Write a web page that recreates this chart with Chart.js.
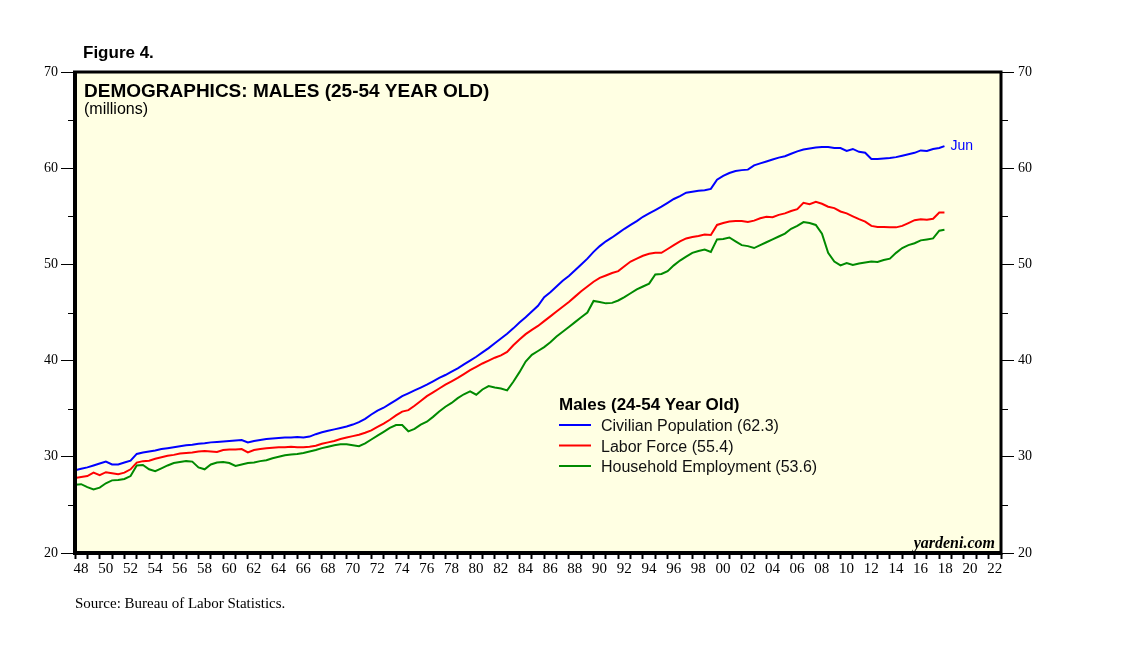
<!DOCTYPE html>
<html>
<head>
<meta charset="utf-8">
<script src="https://cdn.jsdelivr.net/npm/chart.js@4"></script>
<style>
  html, body { margin: 0; padding: 0; background: #fff; }
  canvas { display: block; }
</style>
</head>
<body>
<canvas id="chart" width="1138" height="649"></canvas>
<script>
// half-year sample points, 1948 to mid-2018 (last reading is June 2018)
const dates = [];
for (let y = 1948; y <= 2018; y += 0.5) dates.push(y);
dates.push(2018.42);

const civilian = [
    28.6, 28.75, 28.9, 29.1, 29.3, 29.5, 29.2, 29.2, 29.4, 29.6,
    30.3, 30.45, 30.55, 30.65, 30.8, 30.9, 31.0, 31.1, 31.2, 31.25,
    31.35, 31.4, 31.5, 31.55, 31.6, 31.65, 31.7, 31.75, 31.5, 31.65,
    31.75, 31.85, 31.9, 31.95, 32.0, 32.0, 32.05, 32.0, 32.1, 32.35,
    32.55, 32.7, 32.85, 33.0, 33.15, 33.35, 33.6, 33.95, 34.4, 34.8,
    35.1, 35.5, 35.9, 36.3, 36.6, 36.9, 37.2, 37.5, 37.85, 38.2,
    38.5, 38.85, 39.2, 39.6, 40.0, 40.4, 40.85, 41.3, 41.8, 42.3,
    42.8, 43.35, 43.95, 44.5, 45.1, 45.7, 46.6, 47.1, 47.7, 48.3,
    48.8, 49.4, 50.0, 50.6, 51.3, 51.9, 52.4, 52.8, 53.25, 53.7,
    54.1, 54.5, 54.95, 55.3, 55.65, 56.0, 56.4, 56.8, 57.1, 57.45,
    57.55, 57.65, 57.7, 57.85, 58.8, 59.2, 59.5, 59.7, 59.8, 59.85,
    60.3, 60.5, 60.7, 60.9, 61.1, 61.25, 61.5, 61.75, 61.95, 62.05,
    62.15, 62.2, 62.2, 62.1, 62.1, 61.8, 62.0, 61.7, 61.6, 60.95,
    60.95, 61.0, 61.05, 61.15, 61.3, 61.45, 61.6, 61.85, 61.8, 62.0,
    62.1, 62.3
];

const laborForce = [
    27.8, 27.9, 28.0, 28.35, 28.1, 28.4, 28.3, 28.2, 28.35, 28.7,
    29.4, 29.55, 29.6, 29.8, 29.95, 30.1, 30.2, 30.35, 30.4, 30.45,
    30.55, 30.6, 30.55, 30.5, 30.7, 30.75, 30.75, 30.8, 30.45, 30.7,
    30.8, 30.9, 30.95, 31.0, 31.0, 31.05, 31.0, 31.0, 31.05, 31.15,
    31.35, 31.5, 31.65, 31.85, 32.0, 32.15, 32.3, 32.5, 32.75, 33.1,
    33.45, 33.85, 34.3, 34.7, 34.85, 35.3, 35.8, 36.3, 36.7, 37.1,
    37.5, 37.85, 38.2, 38.6, 39.0, 39.35, 39.7, 40.0, 40.3, 40.55,
    40.9, 41.6, 42.2, 42.75, 43.2, 43.6, 44.1, 44.6, 45.1, 45.6,
    46.1, 46.65, 47.2, 47.7, 48.2, 48.6, 48.85, 49.1, 49.3, 49.8,
    50.3, 50.6, 50.9, 51.1, 51.2, 51.2, 51.6, 52.0, 52.4, 52.7,
    52.85, 52.95, 53.1, 53.05, 54.1, 54.3, 54.45, 54.5, 54.5, 54.4,
    54.55, 54.8, 54.95, 54.9, 55.15, 55.3, 55.55, 55.75, 56.4, 56.25,
    56.5, 56.3, 56.0, 55.85, 55.5, 55.3, 55.0, 54.7, 54.45, 54.0,
    53.9, 53.9, 53.85, 53.85, 54.0, 54.3, 54.6, 54.7, 54.65, 54.75,
    55.4, 55.4
];

const employment = [
    27.1, 27.15, 26.85, 26.6, 26.8, 27.25, 27.55, 27.6, 27.7, 28.0,
    29.1, 29.15, 28.7, 28.5, 28.8, 29.1, 29.35, 29.45, 29.55, 29.5,
    28.9, 28.7, 29.2, 29.4, 29.45, 29.35, 29.05, 29.2, 29.35, 29.4,
    29.55, 29.65, 29.85, 30.0, 30.15, 30.25, 30.3, 30.4, 30.55, 30.7,
    30.9, 31.05, 31.2, 31.3, 31.3, 31.2, 31.1, 31.4, 31.8, 32.2,
    32.6, 33.0, 33.3, 33.3, 32.65, 32.9, 33.35, 33.65, 34.15, 34.7,
    35.2, 35.6, 36.1, 36.5, 36.8, 36.45, 37.0, 37.35, 37.2, 37.1,
    36.9, 37.8, 38.8, 39.9, 40.6, 41.0, 41.4, 41.9, 42.5, 43.0,
    43.5, 44.0, 44.5, 45.0, 46.2, 46.1, 45.95, 46.0, 46.25, 46.6,
    47.0, 47.4, 47.7, 48.0, 48.95, 49.0, 49.3, 49.9, 50.4, 50.8,
    51.2, 51.4, 51.55, 51.3, 52.6, 52.65, 52.8, 52.4, 52.0, 51.9,
    51.7, 52.0, 52.3, 52.6, 52.9, 53.2, 53.7, 54.0, 54.4, 54.3,
    54.1, 53.2, 51.2, 50.3, 49.9, 50.15, 49.95, 50.1, 50.2, 50.3,
    50.25, 50.45, 50.6, 51.2, 51.7, 52.0, 52.2, 52.5, 52.6, 52.7,
    53.5, 53.6
];

const seriesNames = ['Civilian Population', 'Labor Force', 'Household Employment'];
const latest = ['62.3', '55.4', '53.6'];
const yTicks = [20, 30, 40, 50, 60, 70];

const toPoints = (vals) => vals.map((v, i) => ({ x: dates[i], y: v }));

// pale chart background, thick frame, minor y ticks and the loose texts
const decorations = {
    id: 'decorations',
    beforeDraw(chart) {
        const { ctx, chartArea: a } = chart;
        ctx.save();
        ctx.fillStyle = '#ffffe3';
        ctx.fillRect(a.left, a.top, a.right - a.left, a.bottom - a.top);
        ctx.restore();
    },
    afterDraw(chart) {
        const { ctx, chartArea: a } = chart;
        const y = chart.scales.y;
        ctx.save();
        ctx.strokeStyle = '#000';
        ctx.lineWidth = 1;
        for (let v = 25; v < 70; v += 10) {
            const py = Math.round(y.getPixelForValue(v)) + 0.5;
            ctx.beginPath();
            ctx.moveTo(a.left - 7, py);
            ctx.lineTo(a.left, py);
            ctx.moveTo(a.right, py);
            ctx.lineTo(a.right + 7, py);
            ctx.stroke();
        }
        ctx.lineWidth = 4;
        ctx.beginPath();
        ctx.moveTo(a.left, a.top);
        ctx.lineTo(a.left, a.bottom);
        ctx.lineTo(a.right, a.bottom);
        ctx.stroke();
        ctx.lineWidth = 3;
        ctx.beginPath();
        ctx.moveTo(a.left - 2, a.top);
        ctx.lineTo(a.right, a.top);
        ctx.lineTo(a.right, a.bottom + 2);
        ctx.stroke();

        ctx.fillStyle = '#000';
        ctx.textBaseline = 'alphabetic';
        ctx.font = 'bold 17px "Liberation Sans", Arial, sans-serif';
        ctx.fillText('Figure 4.', 83, 58);
        ctx.font = 'bold 19px "Liberation Sans", Arial, sans-serif';
        ctx.fillText('DEMOGRAPHICS: MALES (25-54 YEAR OLD)', 84, 97);
        ctx.font = '16px "Liberation Sans", Arial, sans-serif';
        ctx.fillText('(millions)', 84, 114);

        ctx.font = '15px "Liberation Serif", "Times New Roman", serif';
        ctx.fillText('Source: Bureau of Labor Statistics.', 75, 608);
        ctx.font = 'italic bold 16px "Liberation Serif", "Times New Roman", serif';
        ctx.textAlign = 'right';
        ctx.fillText('yardeni.com', 995, 548);
        ctx.textAlign = 'left';

        // legend
        ctx.font = 'bold 17px "Liberation Sans", Arial, sans-serif';
        ctx.fillText('Males (24-54 Year Old)', 559, 410);
        ctx.font = '16px "Liberation Sans", Arial, sans-serif';
        chart.data.datasets.forEach((ds, i) => {
            const ly = 425 + i * 20.5;
            ctx.strokeStyle = ds.borderColor;
            ctx.lineWidth = 2;
            ctx.beginPath();
            ctx.moveTo(559, ly);
            ctx.lineTo(591, ly);
            ctx.stroke();
            ctx.fillStyle = '#111';
            ctx.fillText(ds.label + ' (' + latest[i] + ')', 601, ly + 6);
        });

        // month tag at the end of the population line
        const meta = chart.getDatasetMeta(0);
        const last = meta.data[meta.data.length - 1];
        ctx.fillStyle = '#0000ff';
        ctx.font = '14px "Liberation Sans", Arial, sans-serif';
        ctx.fillText('Jun', last.x + 6, last.y + 4);
        ctx.restore();
    },
};

const xTickFont = { family: '"Liberation Serif", "Times New Roman", serif', size: 15 };
const yTickFont = { family: '"Liberation Serif", "Times New Roman", serif', size: 14 };

new Chart(document.getElementById('chart'), {
    type: 'line',
    data: {
        datasets: [
            { label: seriesNames[0], data: toPoints(civilian), borderColor: '#0000ff' },
            { label: seriesNames[1], data: toPoints(laborForce), borderColor: '#ff0000' },
            { label: seriesNames[2], data: toPoints(employment), borderColor: '#008a00' },
        ].map((ds) => ({ ...ds, borderWidth: 2, pointRadius: 0, tension: 0, fill: false })),
    },
    options: {
        responsive: false,
        animation: false,
        devicePixelRatio: 1,
        layout: { padding: { top: 72, left: 0, right: 0, bottom: 0 } },
        plugins: { legend: { display: false }, tooltip: { enabled: false } },
        scales: {
            x: {
                type: 'linear',
                min: 1948,
                max: 2023,
                afterFit: (s) => { s.height = 96; },
                border: { display: false },
                grid: { drawOnChartArea: false, tickLength: 6, tickWidth: 2, tickColor: '#000' },
                ticks: {
                    stepSize: 1,
                    autoSkip: false,
                    maxRotation: 0,
                    labelOffset: 6,
                    padding: 1,
                    color: '#000',
                    font: xTickFont,
                    callback: (v) => (v % 2 === 0 && v < 2023 ? String(v).slice(2) : ''),
                },
            },
            y: {
                position: 'left',
                min: 20,
                max: 70,
                afterFit: (s) => { s.width = 75; },
                border: { display: false },
                grid: { drawOnChartArea: false, tickLength: 14, tickWidth: 1, tickColor: '#000' },
                afterBuildTicks: (s) => { s.ticks = yTicks.map((v) => ({ value: v })); },
                ticks: { padding: 3, color: '#000', font: yTickFont },
            },
            y2: {
                position: 'right',
                min: 20,
                max: 70,
                afterFit: (s) => { s.width = 137; },
                border: { display: false },
                grid: { drawOnChartArea: false, tickLength: 13, tickWidth: 1, tickColor: '#000' },
                afterBuildTicks: (s) => { s.ticks = yTicks.map((v) => ({ value: v })); },
                ticks: { padding: 4, color: '#000', font: yTickFont },
            },
        },
    },
    plugins: [decorations],
});
</script>
</body>
</html>
